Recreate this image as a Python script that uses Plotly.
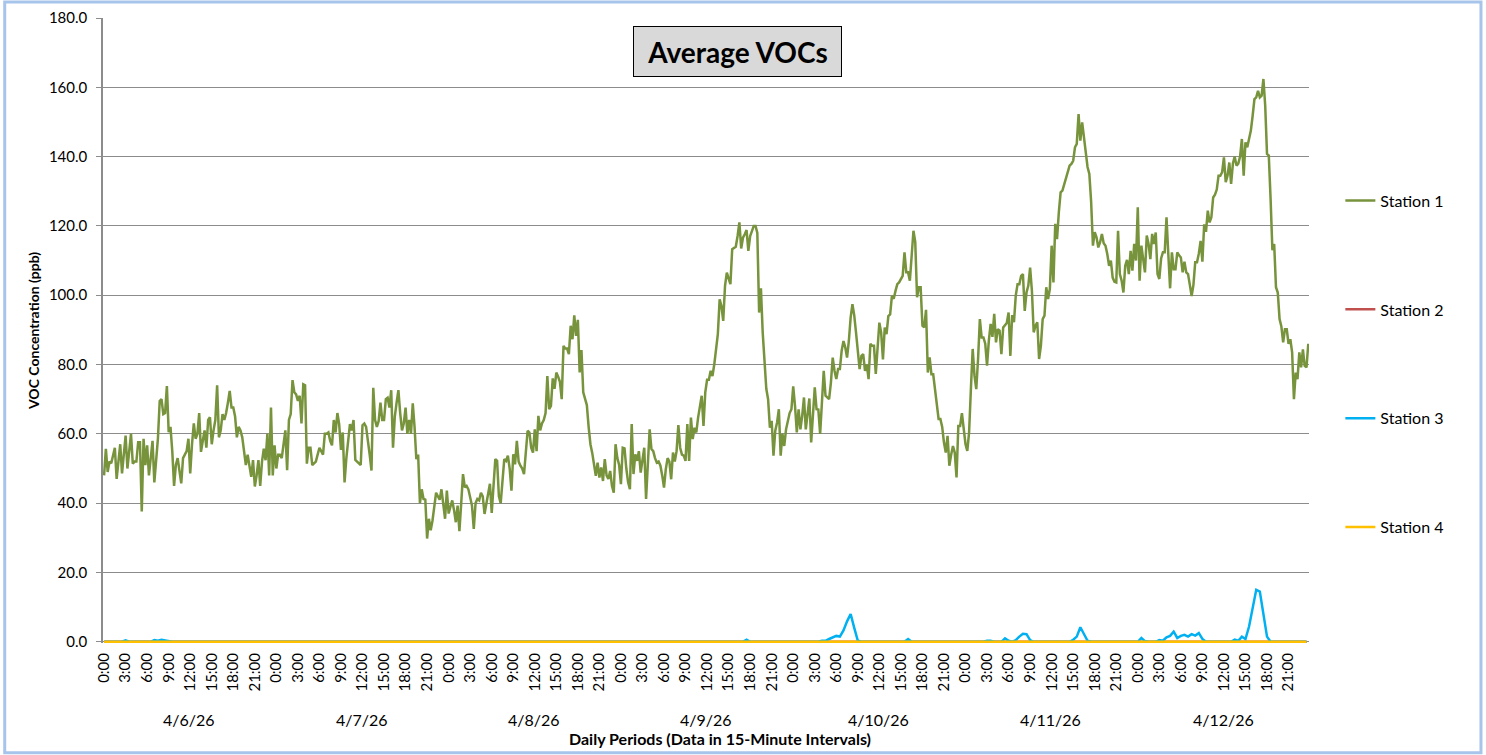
import plotly.graph_objects as go

# ---------------- data ----------------
day_labels = ["4/6/26", "4/7/26", "4/8/26", "4/9/26", "4/10/26", "4/11/26", "4/12/26"]
hour_labels = ["0:00", "3:00", "6:00", "9:00", "12:00", "15:00", "18:00", "21:00"]
station_names = ["Station 1", "Station 2", "Station 3", "Station 4"]

# Station 1, one reading every 15 minutes (96 per day)
s1_d1 = [48, 55.7, 49, 52, 51.5, 54, 56, 47, 53, 57, 48.6, 55, 59.5, 50, 55, 60, 51.4, 52, 52, 57.6,
         57.6, 37.6, 58.6, 51, 56.7, 48, 53, 58, 46, 52, 58.6, 69.5, 70, 65.7, 66, 73.8, 60.5, 62, 55, 45,
         51, 53, 49, 45.7, 53, 54, 55, 58.6, 48.6, 57, 63, 58.6, 60, 66, 54.8, 58, 61, 56, 64, 64.8,
         57, 61, 64, 74, 59, 61, 65.7, 64, 66, 69, 72.4, 67.6, 67.6, 65, 59, 62, 61, 59, 54, 51,
         54, 50, 47.6, 52.4, 44.8, 48, 52.4, 45, 52, 55.7, 52.4, 60, 48, 67.6, 48, 56.7]
s1_d2 = [50, 54, 54, 53, 58, 61, 49.5, 64, 65.7, 75.5, 72, 71.4, 69.5, 71, 63, 74.3, 74, 51.4, 56, 56,
         51, 51.5, 52, 54, 56, 55, 54, 60, 60, 60.4, 58, 56.7, 64, 60.4, 66, 62.8, 55.4, 60.4, 46, 53,
         58, 62.8, 61, 64, 52.5, 52, 51.5, 51, 62.5, 63, 62, 58.5, 54, 49.4, 73.3, 64, 62, 63.7, 69, 64,
         64, 70, 70.4, 67.6, 72.6, 56, 65, 69, 72.6, 66, 61, 63, 67.6, 60, 64, 60, 68.8, 62, 52.7, 54,
         40, 44, 41.2, 41, 29.8, 35.5, 32.2, 35, 38.4, 43, 42, 41, 44, 39, 35.5, 43.6]
s1_d3 = [37, 39, 40.8, 38, 34.5, 39.3, 31.9, 40, 48.4, 44.6, 45, 44, 42, 39.3, 32.6, 40, 41.2, 40.8, 43, 42,
         36.9, 40, 43, 45.6, 37.2, 46, 52.7, 52.2, 42, 40, 46, 52.7, 52.2, 53.7, 50, 43.6, 54.1, 51.2, 58, 52,
         50.8, 50, 48.4, 55, 60.9, 60.4, 56, 54.6, 61.3, 55, 65.2, 61, 63, 64, 66, 76.7, 67.1, 68.1, 76, 73,
         77.7, 76.5, 75, 70, 85.4, 84.6, 84.6, 83, 91.2, 87.3, 94.2, 88.3, 92.9, 77.7, 84.2, 72, 70, 68.3, 62, 57,
         54.5, 51, 47.9, 51.7, 47.4, 50.3, 46.4, 52.7, 48, 47, 49.3, 45, 43, 57, 53, 51]
s1_d4 = [45.5, 56, 55.8, 50, 46, 44, 62.8, 48.4, 54.1, 52.2, 55, 48.8, 52, 56, 41.2, 52, 61.3, 55.6, 55, 53,
         51.7, 52, 50.8, 48, 44.5, 49.8, 53, 52, 46.9, 54.6, 52, 55, 62.5, 56, 54, 53.7, 52.2, 62.8, 52.2, 64.7,
         58.5, 61.8, 60.4, 64.7, 68, 71, 62.3, 72, 75.6, 75.6, 78.2, 76.7, 80, 85.4, 88.75, 98.8, 96.9, 92.6,
         102.7, 106.5, 104.6, 103.2, 113.3, 113.75, 114, 117.1, 121, 113.5, 116.6, 117.6, 118.8, 112.8, 117.1,
         118.5, 120, 120, 118, 95, 102, 89.2, 81, 73, 70, 61.8, 63.75, 53.7, 60.9, 63.3, 67.1, 53.7,
         60, 56.5, 61.3, 64, 66, 67.1]
s1_d5 = [73.7, 68.1, 60.4, 67.1, 61.3, 65.2, 70.5, 61.3, 66.6, 70.2, 57.5, 65.2, 73.4, 67.1, 67, 60, 70, 78.2,
         71, 70.5, 70, 74.8, 82, 78.2, 75.8, 78.7, 78.7, 84, 86.8, 85, 82, 86.8, 93.6, 97.4, 94.2, 89.2, 83.5,
         78.7, 82.5, 83, 78.2, 80, 75.8, 86, 85.4, 85.4, 77.3, 86.3, 92.1, 89.2, 81.5, 90.7, 88.75, 94, 94.5,
         99.8, 99, 101.25, 103.2, 103.7, 104.6, 105.6, 112.4, 106.6, 106.6, 104.2, 111.4, 118.6, 115.3, 99.4,
         102.3, 102.3, 91.2, 90.7, 95.8, 77.7, 82.1, 77.2, 77.2, 72.9, 68, 64.3, 64.3, 62, 57.5, 54.6, 59.4,
         50.8, 54, 56.5, 54.6, 47.4, 62.3, 62.3, 66, 62]
s1_d6 = [57, 55.1, 60.4, 72.9, 84.5, 76.8, 72.9, 81.6, 93.1, 87.8, 87.8, 86, 79.7, 86.9, 91.7, 88, 94.6, 86.4,
         90.2, 89.8, 83, 90.7, 91.2, 92, 95, 82.5, 94.3, 92.2, 99.9, 103.2, 103.2, 105.6, 106.1, 95.5, 100.8,
         102.8, 108, 101.3, 89.3, 91.2, 92.2, 81.6, 85.4, 93.1, 94.1, 102.3, 98.9, 101.8, 114.3, 103.7, 120.6,
         116.2, 123.9, 129.7, 130.2, 132, 133.1, 135, 137.4, 137.9, 138.8, 142.7, 143.7, 152.3, 144.6, 149.9,
         146.1, 141.3, 137, 135, 127, 114.3, 118.2, 116.7, 113.8, 115.3, 117.7, 115, 114.3, 111.9, 108.5, 110,
         105.1, 103.9, 103.7, 118.6, 106.1, 104.2, 100.8, 108.5, 110.2, 106.1, 112.8, 107.1, 114.8, 110]
s1_d7 = [125.4, 104.2, 114.3, 110.4, 106.6, 117.2, 114.8, 110.4, 117.7, 114.8, 118.1, 106.1, 104.7, 110.6,
         112.4, 112.4, 122.5, 111.9, 102, 112.4, 107.5, 107.5, 112.4, 111.5, 110.9, 106.6, 109.7, 106.6, 106.1,
         103, 99.8, 103, 109.5, 109.5, 112, 115.7, 109.7, 120.5, 118.3, 124.4, 121, 122.5, 128.2, 129, 130.5,
         134.5, 134.5, 135.5, 139.8, 132.6, 134.5, 138.3, 132.1, 138, 140, 137.4, 138, 140, 145.1, 134.5,
         144.1, 142.7, 145, 147.5, 151.8, 156.6, 157.1, 159, 157.1, 157.6, 162.4, 154.7, 140.8, 140.3, 127.8,
         113, 114.8, 102.3, 100.8, 93.1, 91, 86.4, 90.2, 90.2, 86, 87.3, 83.5, 70, 77.7, 75.8, 83.5, 79.2,
         84.4, 79.6, 79.2, 86]

# Station 3, read every 30 minutes (48 per day)
s3_d1 = [0, 0, 0, 0, 0, 0, 0.4, 0, 0, 0, 0, 0, 0, 0, 0.5, 0.3, 0.6, 0.4, 0, 0, 0, 0, 0, 0,
         0, 0, 0, 0, 0, 0, 0, 0, 0, 0, 0, 0, 0, 0, 0, 0, 0, 0, 0, 0, 0, 0, 0, 0]
s3_d2 = [0, 0, 0, 0, 0, 0, 0, 0, 0, 0, 0, 0, 0, 0, 0, 0, 0, 0, 0, 0, 0, 0, 0, 0,
         0, 0, 0, 0, 0, 0, 0, 0, 0, 0, 0, 0, 0, 0, 0, 0, 0, 0, 0, 0, 0, 0, 0, 0]
s3_d3 = [0, 0, 0, 0, 0, 0, 0, 0, 0, 0, 0, 0, 0, 0, 0, 0, 0, 0, 0, 0, 0, 0, 0, 0,
         0, 0, 0, 0, 0, 0, 0, 0, 0, 0, 0, 0, 0, 0, 0, 0, 0, 0, 0, 0, 0, 0, 0, 0]
s3_d4 = [0, 0, 0, 0, 0, 0, 0, 0, 0, 0, 0, 0, 0, 0, 0, 0, 0, 0, 0, 0, 0, 0, 0, 0,
         0, 0, 0, 0, 0, 0, 0, 0, 0, 0, 0, 0.6, 0, 0, 0, 0, 0, 0, 0, 0, 0, 0, 0, 0]
s3_d5 = [0, 0, 0, 0, 0, 0, 0, 0, 0.3, 0.3, 0.8, 1.3, 1.7, 1.5, 3.3, 5.9, 8.0, 4.0, 0.3, 0, 0, 0, 0, 0,
         0, 0, 0, 0, 0, 0, 0, 0, 0.8, 0, 0, 0, 0, 0, 0, 0, 0, 0, 0, 0, 0, 0, 0, 0]
s3_d6 = [0, 0, 0, 0, 0, 0, 0.3, 0.3, 0, 0, 0, 1.0, 0.3, 0, 0.5, 1.5, 2.3, 2.2, 0.5, 0, 0, 0, 0, 0,
         0, 0, 0, 0, 0, 0, 0.6, 1.5, 4.2, 2.0, 0.3, 0, 0, 0, 0, 0, 0, 0, 0, 0, 0, 0, 0, 0]
s3_d7 = [0, 1.1, 0.2, 0, 0, 0, 0.5, 0.3, 1.3, 1.7, 2.9, 1.1, 1.7, 2.0, 1.5, 2.2, 1.8, 2.5, 0.8, 0, 0, 0, 0, 0,
         0, 0, 0, 0.6, 0.3, 1.5, 0.8, 4.4, 10.0, 15.0, 14.5, 7.8, 1.5, 0, 0, 0, 0, 0, 0, 0, 0, 0, 0, 0]

# Stations 2 and 4 read zero throughout (every 30 minutes)
s2_day = [0, 0, 0, 0, 0, 0, 0, 0, 0, 0, 0, 0, 0, 0, 0, 0, 0, 0, 0, 0, 0, 0, 0, 0,
          0, 0, 0, 0, 0, 0, 0, 0, 0, 0, 0, 0, 0, 0, 0, 0, 0, 0, 0, 0, 0, 0, 0, 0]
s4_day = [0, 0, 0, 0, 0, 0, 0, 0, 0, 0, 0, 0, 0, 0, 0, 0, 0, 0, 0, 0, 0, 0, 0, 0,
          0, 0, 0, 0, 0, 0, 0, 0, 0, 0, 0, 0, 0, 0, 0, 0, 0, 0, 0, 0, 0, 0, 0, 0]

STEP_S1 = 0.25   # hours
STEP_OTHERS = 0.5

# ---------------- assemble ----------------
station1 = s1_d1 + s1_d2 + s1_d3 + s1_d4 + s1_d5 + s1_d6 + s1_d7
station3 = s3_d1 + s3_d2 + s3_d3 + s3_d4 + s3_d5 + s3_d6 + s3_d7
station2 = s2_day * len(day_labels)
station4 = s4_day * len(day_labels)
hours_s1 = [i * STEP_S1 for i in range(len(station1))]
hours_oth = [i * STEP_OTHERS for i in range(len(station3))]

series = [(station1, hours_s1), (station2, hours_oth), (station3, hours_oth), (station4, hours_oth)]
colors = ["#77933C", "#C0504D", "#00B0F0", "#FFC000"]

FONT = "Lato, 'Open Sans', sans-serif"

fig = go.Figure()
for name, (vals, xs), col in zip(station_names, series, colors):
    fig.add_trace(go.Scatter(
        x=xs, y=vals, mode="lines", name=name, legendgroup=name,
        line=dict(color=col, width=2.5),
    ))

tickvals = [d * 24 + k * 3 for d in range(len(day_labels)) for k in range(len(hour_labels))]
ticktext = hour_labels * len(day_labels)

annotations = []
for d, lab in enumerate(day_labels):
    annotations.append(dict(
        x=d * 24 + 11.875, y=-0.122, xref="x", yref="paper", text=lab, showarrow=False,
        font=dict(family=FONT, size=16, color="#000000"), xanchor="center", yanchor="middle",
    ))
annotations.append(dict(
    x=0.5116, y=-0.152, xref="paper", yref="paper",
    text="<b>Daily Periods (Data in 15-Minute Intervals)</b>", showarrow=False,
    font=dict(family=FONT, size=16, color="#000000"), xanchor="center", yanchor="middle",
))
annotations.append(dict(
    x=0.5265, y=0.947, xref="paper", yref="paper", text="<b>Average VOCs</b>", showarrow=False,
    font=dict(family=FONT, size=28, color="#000000"), xanchor="center", yanchor="middle",
    bgcolor="#D9D9D9", bordercolor="#000000", borderwidth=1, borderpad=6, width=195, height=37,
))

fig.update_layout(
    width=1486, height=755,
    margin=dict(l=103, r=177, t=18, b=112, autoexpand=False),
    paper_bgcolor="#FFFFFF", plot_bgcolor="#FFFFFF",
    font=dict(family=FONT, size=15, color="#000000"),
    showlegend=True,
    legend=dict(x=1.026, y=0.735, xanchor="left", yanchor="top", tracegroupgap=85,
                font=dict(family=FONT, size=16, color="#000000"), bgcolor="rgba(0,0,0,0)",
                itemwidth=30),
    annotations=annotations,
    shapes=[dict(type="rect", xref="paper", yref="paper", x0=-0.0815, x1=1.1426, y0=-0.1755, y1=1.0256,
                 line=dict(color="#A7C4EA", width=3), fillcolor="rgba(0,0,0,0)", layer="below")],
)

fig.update_xaxes(
    range=[-0.15, 167.85], tickmode="array", tickvals=tickvals, ticktext=ticktext,
    tickangle=-90, tickfont=dict(family=FONT, size=15, color="#000000"),
    showgrid=False, zeroline=False, showline=False,
    ticks="", ticklabelstandoff=6, automargin=False,
)
fig.update_yaxes(
    range=[-0.35, 180], tickmode="array", tickvals=[0, 20, 40, 60, 80, 100, 120, 140, 160, 180],
    tickformat=".1f",
    tickfont=dict(family=FONT, size=15, color="#000000"),
    showgrid=True, gridcolor="#8C8C8C", gridwidth=1, zeroline=False,
    showline=True, linecolor="#8C8C8C", linewidth=1.5,
    ticks="outside", ticklen=5, tickcolor="#8C8C8C", ticklabelstandoff=6, automargin=False,
    title=dict(text="<b>VOC Concentration (ppb)</b>", font=dict(family=FONT, size=14, color="#000000"),
               standoff=6),
)

fig.write_html("out.html", config={"displayModeBar": False},
               post_script="document.body.style.margin='0px';document.body.style.overflow='hidden';")
